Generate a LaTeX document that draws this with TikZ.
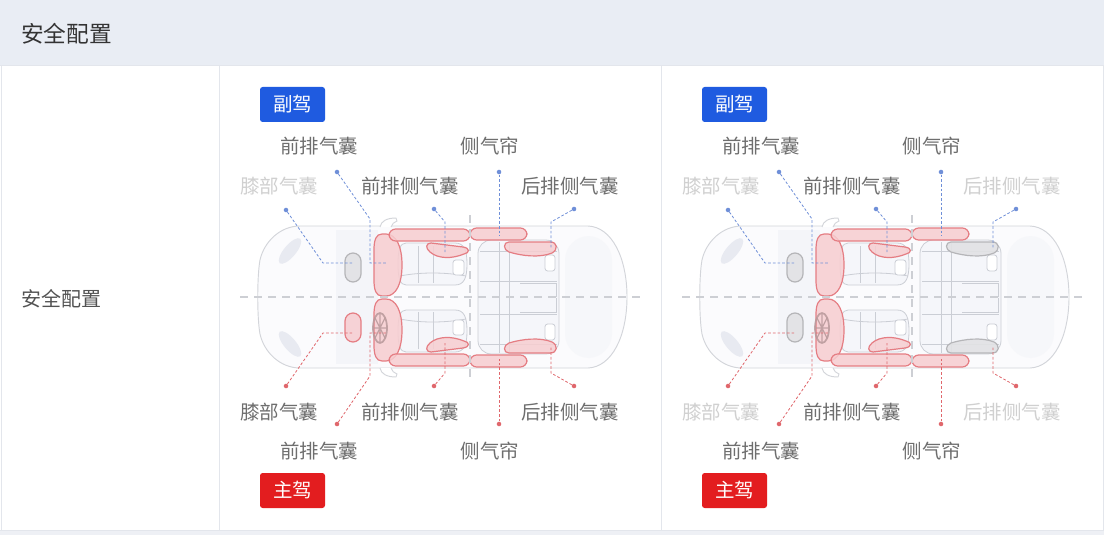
\documentclass[tikz,border=0pt]{standalone}
\usepackage{fontspec}
\setmainfont{Noto Sans CJK SC}
\definecolor{hdrbg}{HTML}{E9EDF4}
\definecolor{gridc}{HTML}{E3E6EC}
\definecolor{txtdark}{HTML}{333333}
\definecolor{lblc}{HTML}{6E6E6E}
\definecolor{lblfade}{HTML}{D0D0D0}
\definecolor{badgeblue}{HTML}{1F5BE0}
\definecolor{badgered}{HTML}{E31D1F}
\definecolor{bagfill}{HTML}{F7CDD0}
\definecolor{bagline}{HTML}{E57D83}
\definecolor{grayfill}{HTML}{E2E2E4}
\definecolor{grayline}{HTML}{B5B5B8}
\definecolor{carline}{HTML}{D3D5DA}
\definecolor{carfill}{HTML}{FBFBFD}
\definecolor{cabinfill}{HTML}{F3F4F8}
\definecolor{seatline}{HTML}{CBCED5}
\definecolor{seatfill}{HTML}{F5F6FA}
\definecolor{dotblue}{HTML}{6F8FD8}
\definecolor{dotred}{HTML}{E0676C}
\definecolor{centerdash}{HTML}{CDCFD4}
\definecolor{lampc}{HTML}{E8EAF1}
\definecolor{wheelc}{HTML}{B8999B}
\definecolor{bottomband}{HTML}{EEF0F5}

\tikzset{
  lbl/.style={font=\fontsize{14.6pt}{16pt}\selectfont, text=lblc, inner sep=0pt},
  bag/.style={draw=bagline, fill=bagfill, line width=0.9pt, fill opacity=0.85},
  gbag/.style={draw=grayline, fill=grayfill, line width=0.9pt, fill opacity=0.9},
  body/.style={draw=carline, fill=carfill, line width=0.7pt},
  seatln/.style={draw=seatline, line width=0.6pt},
  leadb/.style={draw=dotblue, line width=0.6pt, dash pattern=on 2pt off 1.5pt},
  leadr/.style={draw=dotred, line width=0.6pt, dash pattern=on 2pt off 1.5pt},
  dotb/.style={circle, fill=dotblue, inner sep=0pt, minimum size=3.4pt},
  dotr/.style={circle, fill=dotred, inner sep=0pt, minimum size=3.4pt},
  axisdash/.style={draw=centerdash, line width=0.8pt, dash pattern=on 6pt off 4.5pt},
  badge/.style={rounded corners=2pt, minimum width=48.75pt, minimum height=26.25pt, inner sep=0pt, text=white, font=\fontsize{14.6pt}{16pt}\selectfont},
  wheel/.style={draw=wheelc, line width=1.3pt, draw opacity=0.85}
}

\newcommand\halfcar[2]{%
  \fill[lampc, rotate around={50:(290,251)}] (290,251) ellipse [x radius=16, y radius=6];
  \draw[body, fill=white] (380,227) .. controls (381,221) and (387,218) .. (396,218) -- (397,221) .. controls (394,222) and (392,224) .. (391,227);
  % front seat
  \draw[seatln, fill=seatfill] (406,243) -- (455,243) .. controls (464,243) and (467,250) .. (467,264) .. controls (467,278) and (464,285) .. (455,285) -- (406,285) .. controls (400,285) and (398,278) .. (398,264) .. controls (398,250) and (400,243) .. (406,243) -- cycle;
  \draw[seatln] (418,246) -- (418,283) (433,246) -- (433,283);
  \draw[seatln] (400,276) .. controls (420,272) and (445,272) .. (466,276);
  \draw[seatln, fill=white, rounded corners=2pt] (453,260) rectangle (464,275);
  % rear seat details
  \draw[seatln] (480,251) -- (557,251) (480,281) -- (557,281) (499,242) -- (499,297) (509,242) -- (509,297);
  \draw[seatln] (520,283) -- (556,283) -- (556,297);
  \draw[seatln, fill=white, rounded corners=2pt] (545,255) rectangle (555,271);
  % knee bag
  \draw[#1, rounded corners=6pt] (345,253) rectangle (361,282);
  % front bag
  \draw[bag] (386,234) .. controls (396,234) and (402,246) .. (402,265) .. controls (402,284) and (396,296) .. (386,296) -- (382,296) .. controls (376,296) and (374,290) .. (374,280) -- (374,250) .. controls (374,240) and (376,234) .. (382,234) -- cycle;
  % curtains
  \draw[bag, rounded corners=5pt] (389,229) rectangle (470,241);
  \draw[bag, rounded corners=5pt] (470,228) rectangle (527,240);
  % front side bag
  \draw[bag] (431,243) -- (463,247) .. controls (470,248) and (470,253) .. (464,254) .. controls (452,259) and (438,259) .. (430,252) .. controls (425,248) and (426,243) .. (431,243) -- cycle;
  % rear side bag
  \draw[#2] (509,242) -- (550,242) .. controls (558,242) and (558,250) .. (552,253) .. controls (540,258) and (522,256) .. (509,252) .. controls (503,250) and (503,242) .. (509,242) -- cycle;
}

% #1 prefix, #2 knee top style, #3 knee bottom style, #4 rear side style,
% #5 knee top label colour, #6 knee bottom label colour, #7 rear label colour
\newcommand\carpanel[7]{%
  \draw[body] (300,226) -- (588,226) .. controls (612,227) and (627,258) .. (627,297) .. controls (627,336) and (612,367) .. (588,368) -- (300,368) .. controls (280,368) and (264,352) .. (260,334) .. controls (257,318) and (257,276) .. (260,260) .. controls (264,242) and (280,226) .. (300,226) -- cycle;
  \fill[cabinfill, opacity=0.8] (336,230) rectangle (378,364);
  \fill[cabinfill, opacity=0.5, rounded corners=18pt] (565,236) rectangle (612,358);
  \draw[seatln, fill=seatfill, rounded corners=10pt] (478,240) rectangle (559,354);
  \halfcar{#2}{#4}
  \begin{scope}[shift={(0,595)}, yscale=-1]
    \halfcar{#3}{#4}
  \end{scope}
  % steering wheel
  \draw[wheel] (380,328) ellipse [x radius=7, y radius=15];
  \draw[wheel, line width=0.9pt] (380,314) -- (380,342) (374,328) -- (386,328) (375,318) -- (385,338) (385,318) -- (375,338);
  % axes
  \draw[axisdash] (240,297) -- (645,297);
  \draw[axisdash] (470,215) -- (470,380);
  % dots
  \node[dotb] (#1dkt) at (286,210) {};
  \node[dotb] (#1dft) at (337,172) {};
  \node[dotb] (#1dst) at (434,209) {};
  \node[dotb] (#1dct) at (499,172) {};
  \node[dotb] (#1drt) at (574,209) {};
  \node[dotr] (#1dkb) at (286,386) {};
  \node[dotr] (#1dfb) at (337,424) {};
  \node[dotr] (#1dsb) at (434,386) {};
  \node[dotr] (#1dcb) at (499,424) {};
  \node[dotr] (#1drb) at (574,386) {};
  % leaders
  \draw[leadb] (#1dkt) -- (323,263) -- (352,263);
  \draw[leadb] (#1dft) -- (370,219) -- (370,263) -- (386,263);
  \draw[leadb] (#1dst) -- (445,222) -- (445,252);
  \draw[leadb] (#1dct) -- (499,236);
  \draw[leadb] (#1drt) -- (551,222) -- (551,248);
  \draw[leadr] (#1dkb) -- (323,333) -- (352,333);
  \draw[leadr] (#1dfb) -- (370,376) -- (370,333) -- (386,333);
  \draw[leadr] (#1dsb) -- (445,373) -- (445,343);
  \draw[leadr] (#1dcb) -- (499,359);
  \draw[leadr] (#1drb) -- (551,373) -- (551,347);
  % labels
  \node[lbl] (#1lft) at (319,146) {前排气囊};
  \node[lbl] (#1lct) at (490,146) {侧气帘};
  \node[lbl, text=#5] (#1lkt) at (279,186) {膝部气囊};
  \node[lbl] (#1lst) at (410,186) {前排侧气囊};
  \node[lbl, text=#7] (#1lrt) at (570,186) {后排侧气囊};
  \node[lbl, text=#6] (#1lkb) at (279,412) {膝部气囊};
  \node[lbl] (#1lsb) at (410,412) {前排侧气囊};
  \node[lbl, text=#7] (#1lrb) at (570,412) {后排侧气囊};
  \node[lbl] (#1lfb) at (319,451) {前排气囊};
  \node[lbl] (#1lcb) at (490,451) {侧气帘};
  % badges
  \node[badge, fill=badgeblue] (#1bp) at (292.5,104.5) {副驾};
  \node[badge, fill=badgered] (#1bd) at (292.5,490.5) {主驾};
}

\begin{document}
\begin{tikzpicture}[x=0.75pt, y=-0.75pt]
  \useasboundingbox (0,0) rectangle (1104,535);
  % table
  \fill[white] (0,0) rectangle (1104,535);
  \fill[hdrbg] (0,0) rectangle (1104,66);
  \fill[bottomband] (0,530) rectangle (1104,535);
  \draw[gridc, line width=0.75pt] (0,66) -- (1104,66);
  \draw[gridc, line width=0.75pt] (0,530) -- (1104,530);
  \draw[gridc, line width=0.75pt] (1,66) -- (1,530);
  \draw[gridc, line width=0.75pt] (219.5,66) -- (219.5,530);
  \draw[gridc, line width=0.75pt] (661.5,66) -- (661.5,530);
  \draw[gridc, line width=0.75pt] (1103,66) -- (1103,530);
  \node[anchor=west, inner sep=0pt, text=txtdark, font=\fontsize{17pt}{19pt}\selectfont] (hdr) at (21,34) {安全配置};
  \node[anchor=west, inner sep=0pt, text=txtdark!85, font=\fontsize{15pt}{17pt}\selectfont] (rowlbl) at (21,299) {安全配置};
  % left panel
  \carpanel{l}{gbag}{bag}{bag}{lblfade}{lblc}{lblc}
  % right panel
  \begin{scope}[shift={(442,0)}]
    \carpanel{r}{gbag}{gbag}{gbag}{lblfade}{lblfade}{lblfade}
  \end{scope}
\end{tikzpicture}
\end{document}
